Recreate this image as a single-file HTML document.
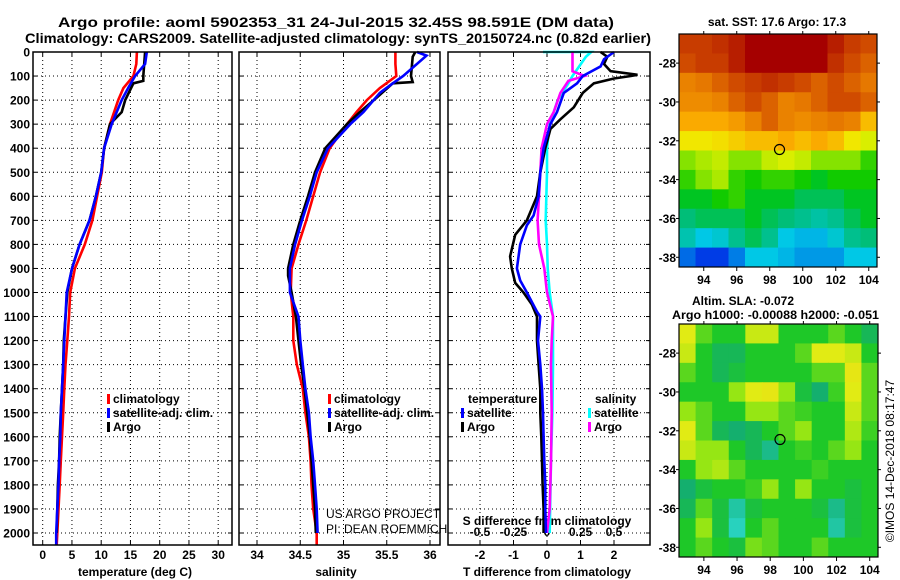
<!DOCTYPE html>
<html><head><meta charset="utf-8"><style>
html,body{margin:0;padding:0;background:#fff}
svg{display:block;font-family:"Liberation Sans",sans-serif}
.t{font-weight:bold;font-size:12px}
</style></head><body>
<svg id="c" width="900" height="580" viewBox="0 0 900 580" xmlns="http://www.w3.org/2000/svg">
<text x="58" y="27" font-size="14" font-weight="bold" textLength="556" lengthAdjust="spacingAndGlyphs">Argo profile: aoml 5902353_31 24-Jul-2015 32.45S 98.591E (DM data)</text>
<text x="25" y="43" font-size="14" font-weight="bold" textLength="626" lengthAdjust="spacingAndGlyphs">Climatology: CARS2009. Satellite-adjusted climatology: synTS_20150724.nc (0.82d earlier)</text>
<g id="g"></g>
</svg>
<script>
// ---- profile data ----
const depthT=[0,50,100,150,200,300,400,500,600,700,800,900,1000,1100,1200,1300,1400,1500,1600,1700,1800,1900,2000,2050];
const tempClim=[16.1,16.0,15.5,13.8,12.9,11.5,10.5,10.1,9.3,8.5,7.2,5.5,4.7,4.5,4.2,3.9,3.7,3.5,3.3,3.1,2.9,2.7,2.5,2.4];
const tempSat=[17.8,17.5,15.8,14.6,13.5,11.8,10.5,10.0,9.1,8.0,6.3,5.0,4.1,3.9,3.7,3.5,3.3,3.1,3.0,2.8,2.7,2.5,2.3,2.3];
const depthTA=[0,100,120,130,200,250,300,400,500,600,700,800,900,1000,1100,1200,1300,1400,1500,1600,1700,1800,1900,2000];
const tempArgo=[17.5,17.2,17.2,15.5,14.1,13.5,11.5,10.5,10.0,9.1,8.0,6.3,5.0,4.2,3.9,3.6,3.5,3.3,3.1,2.9,2.8,2.6,2.5,2.4];
const depthS=[0,50,100,150,200,250,300,400,500,600,700,800,900,1000,1100,1200,1300,1400,1500,1600,1700,1800,1900,2000,2050];
const salClim=[35.6,35.6,35.61,35.42,35.27,35.15,35.04,34.84,34.73,34.65,34.57,34.48,34.4,34.39,34.42,34.42,34.46,34.53,34.56,34.6,34.62,34.63,34.65,34.69,34.69];
const depthSS=[0,15,100,130,170,250,300,400,500,600,700,800,900,1000,1100,1200,1300,1400,1500,1600,1700,1800,1900,2000];
const salSat=[35.85,35.96,35.69,35.57,35.42,35.23,35.08,34.82,34.69,34.61,34.52,34.44,34.38,34.38,34.48,34.5,34.53,34.56,34.6,34.62,34.65,34.67,34.69,34.7];
const depthSA=[0,20,100,125,130,200,250,300,400,500,600,700,800,900,930,1000,1100,1200,1300,1400,1500,1600,1700,1800,1900,2000];
const salArgo=[35.83,35.8,35.78,35.8,35.57,35.35,35.19,35.04,34.79,34.67,34.59,34.5,34.42,34.36,34.36,34.4,34.45,34.48,34.51,34.55,34.58,34.61,34.63,34.65,34.67,34.68];
// differences
const depthD1=[0,30,60,100,130,170,250,300,400,500,600,680,720,800,900,950,1000,1080,1100,1200,1300,1400,1500,1600,1700,1800,1900,2000];
const dTSat=[2.0,1.7,1.6,1.07,0.9,0.5,0.3,0.1,-0.1,-0.2,-0.25,-0.4,-0.6,-0.8,-0.9,-0.8,-0.6,-0.3,-0.2,-0.27,-0.2,-0.15,-0.12,-0.1,-0.08,-0.05,-0.05,-0.03];
const depthD2=[0,20,50,80,95,100,110,130,170,230,280,320,400,500,600,700,760,850,900,960,1000,1050,1100,1200,1300,1400,1500,1600,1700,1800,1900,2000];
const dTArgo=[1.6,1.8,1.7,1.9,2.7,2.5,2.0,1.4,1.07,0.8,0.4,0.1,-0.05,-0.2,-0.3,-0.6,-0.95,-1.1,-1.05,-0.95,-0.7,-0.45,-0.3,-0.3,-0.25,-0.2,-0.2,-0.17,-0.15,-0.13,-0.1,-0.1];
const depthD3=[0,0,20,100,130,200,300,400,500,700,800,900,1000,1100,1200,1300,1500,1700,2000];
const dSSat=[-0.03,0.33,0.29,0.19,0.16,0.08,0.02,0.0,0.0,-0.01,0.0,0.005,0.02,0.045,0.045,0.045,0.04,0.03,0.02];
const depthD4=[0,50,80,100,120,170,250,300,400,500,600,700,800,900,1000,1100,1200,1300,1500,1700,1900,2000];
const dSArgo=[0.19,0.19,0.19,0.28,0.16,0.1,0.05,0.0,-0.04,-0.05,-0.06,-0.07,-0.06,-0.02,0,0.045,0.035,0.03,0.035,0.03,0.02,0];
// depth ticks
const depthTicks=[0,100,200,300,400,500,600,700,800,900,1000,1100,1200,1300,1400,1500,1600,1700,1800,1900,2000];
const tTicks=[0,5,10,15,20,25,30];
const sTicks=[34,34.5,35,35.5,36];
const dTTicks=[-2,-1,0,1,2];
const dSTicks=[-0.5,-0.25,0,0.25,0.5];
// ---- map data ----
const sstLons=[93,94,95,96,97,98,99,100,101,102,103,104];
const sstLats=[-27,-28,-29,-30,-31,-32,-33,-34,-35,-36,-37,-38];
const sstGrid=[
[.9,.9,.92,.95,1,1,1,1,1,.95,.9,.88],
[.88,.9,.9,.95,1,1,1,1,1,.92,.88,.85],
[.8,.82,.85,.88,.9,.92,.9,.88,.85,.88,.85,.82],
[.78,.78,.8,.85,.88,.85,.8,.82,.85,.88,.88,.85],
[.72,.72,.72,.75,.8,.85,.8,.78,.8,.82,.8,.7],
[.65,.65,.66,.68,.7,.7,.72,.7,.72,.7,.65,.62],
[.55,.58,.6,.55,.55,.6,.62,.6,.55,.55,.55,.5],
[.5,.55,.58,.5,.48,.5,.5,.48,.45,.48,.48,.48],
[.45,.45,.48,.5,.45,.45,.45,.42,.42,.42,.45,.45],
[.4,.42,.42,.42,.45,.42,.4,.38,.36,.38,.42,.45],
[.35,.3,.32,.38,.42,.38,.3,.28,.28,.32,.38,.4],
[.2,.15,.15,.22,.3,.3,.28,.25,.25,.25,.3,.3]];
const slaGrid=[
[.85,.6,.5,.5,.8,.8,.5,.5,.5,.6,.5,.4],
[.8,.5,.4,.4,.5,.5,.5,.6,.85,.85,.8,.5],
[.6,.5,.4,.45,.5,.5,.5,.5,.6,.6,.9,.6],
[.5,.5,.5,.7,.85,.9,.7,.45,.35,.55,.85,.6],
[.7,.6,.5,.5,.7,.7,.6,.55,.5,.5,.8,.6],
[.85,.6,.4,.35,.4,.5,.6,.7,.5,.5,.75,.55],
[.8,.7,.7,.5,.4,.3,.5,.55,.5,.6,.7,.5],
[.5,.7,.75,.6,.5,.5,.5,.5,.55,.5,.5,.5],
[.35,.45,.5,.5,.55,.7,.5,.7,.5,.5,.45,.5],
[.4,.6,.45,.25,.45,.5,.5,.5,.45,.3,.45,.5],
[.5,.7,.45,.2,.5,.6,.5,.5,.5,.25,.45,.5],
[.5,.6,.5,.45,.65,.6,.5,.5,.6,.5,.5,.5]];
const lonTicks=[94,96,98,100,102,104];
const latTicks=[-28,-30,-32,-34,-36,-38];
const floatLon=98.591, floatLat=-32.45;

const NS='http://www.w3.org/2000/svg';
const G=document.getElementById('g');
function mk(tag,attrs,parent){const e=document.createElementNS(NS,tag);for(const k in attrs)e.setAttribute(k,attrs[k]);(parent||G).appendChild(e);return e;}
function txt(x,y,s,attrs,parent){const e=mk('text',Object.assign({x:x,y:y},attrs||{}),parent);e.textContent=s;return e;}

const Y0=52, Ybot=545;
const yD=d=>Y0+d*0.2405;
const xT=v=>42.7+v*5.85;
const xS=v=>257+(v-34)*86.5;
const xDT=v=>547+v*33.5;
const xDS=v=>547+v*134;
const panels=[{x0:33,x1:232,n:'temperature-panel'},{x0:239,x1:440,n:'salinity-panel'},{x0:448,x1:650,n:'difference-panel'}];

function panelFrame(p,gx){
  const g=mk('g',{});
  
  
  depthTicks.forEach(d=>{mk('line',{x1:p.x0,x2:p.x1,y1:yD(d),y2:yD(d),stroke:'#000','stroke-width':1,'stroke-dasharray':'1,3'},g);
    mk('line',{x1:p.x0,x2:p.x0+4,y1:yD(d),y2:yD(d),stroke:'#000'},g);mk('line',{x1:p.x1-4,x2:p.x1,y1:yD(d),y2:yD(d),stroke:'#000'},g);});
  gx.forEach(x=>{mk('line',{x1:x,x2:x,y1:Y0,y2:Ybot,stroke:'#000','stroke-dasharray':'1,3'},g);
    mk('line',{x1:x,x2:x,y1:Ybot,y2:Ybot-4,stroke:'#000'},g);mk('line',{x1:x,x2:x,y1:Y0,y2:Y0+4,stroke:'#000'},g);});
  return g;
}
function frameBox(p){const r=mk('rect',{x:p.x0,y:Y0,width:p.x1-p.x0,height:Ybot-Y0,fill:'none',stroke:'#000','stroke-width':1.5});}
function line(xs,ds,fx,color,name){
  const pts=xs.map((v,i)=>fx(v).toFixed(1)+','+yD(ds[i]).toFixed(1)).join(' ');
  const e=mk('polyline',{points:pts,fill:'none',stroke:color,'stroke-width':2.6,'stroke-linejoin':'miter'});
  
  
}
panelFrame(panels[0],tTicks.map(xT));
panelFrame(panels[1],sTicks.map(xS));
panelFrame(panels[2],dTTicks.map(xDT));
// depth labels
depthTicks.forEach(d=>{const e=txt(30,yD(d)+4.5,String(d),{class:'t','text-anchor':'end'});
  
  });
tTicks.forEach(v=>{const e=txt(xT(v),559,String(v),{class:'t','text-anchor':'middle'});
  
  });
sTicks.forEach(v=>{const e=txt(xS(v),559,String(v),{class:'t','text-anchor':'middle'});
  
  });
dTTicks.forEach(v=>{const e=txt(xDT(v),559,String(v),{class:'t','text-anchor':'middle'});
  
  });
dSTicks.forEach(v=>{const e=txt(xDS(v),536,String(v),{class:'t','text-anchor':'middle'});
  
  });
let e;
e=txt(135,576,'temperature (deg C)',{class:'t','text-anchor':'middle'});

e=txt(336,576,'salinity',{class:'t','text-anchor':'middle'});

e=txt(547,576,'T difference from climatology',{class:'t','text-anchor':'middle'});

e=txt(547,525,'S difference from climatology',{class:'t','text-anchor':'middle'});


// series
line(tempClim,depthT,xT,'#f00','temp-climatology-line');
line(tempArgo,depthTA,xT,'#000','temp-argo-line');
line(tempSat,depthT,xT,'#00f','temp-satellite-line');
line(salClim,depthS,xS,'#f00','sal-climatology-line');
line(salArgo,depthSA,xS,'#000','sal-argo-line');
line(salSat,depthSS,xS,'#00f','sal-satellite-line');
line(dSSat,depthD3,xDS,'#0ff','s-diff-satellite-line');
line(dSArgo,depthD4,xDS,'#f0f','s-diff-argo-line');
line(dTArgo,depthD2,xDT,'#000','t-diff-argo-line');
line(dTSat,depthD1,xDT,'#00f','t-diff-satellite-line');
panels.forEach(frameBox);

// legends
function leg(x,y,color,label){
  const g=mk('g',{});
  
  
  mk('rect',{x:x,y:y-9,width:3,height:10,fill:color},g);
  txt(x+6,y,label,{class:'t'},g);
}
leg(107,403,'#f00','climatology');leg(107,417,'#00f','satellite-adj. clim.');leg(107,431,'#000','Argo');
leg(328,403,'#f00','climatology');leg(328,417,'#00f','satellite-adj. clim.');leg(328,431,'#000','Argo');
e=txt(468,403,'temperature',{class:'t'});
leg(461,417,'#00f','satellite');leg(461,431,'#000','Argo');
e=txt(595,403,'salinity',{class:'t'});
leg(588,417,'#0ff','satellite');leg(588,431,'#f0f','Argo');
e=txt(326,518,'US ARGO PROJECT',{'font-size':12});
e=txt(326,533,'PI: DEAN ROEMMICH',{'font-size':12});

// maps
function jet(v){const st=[[0,[0,0,160]],[.15,[0,60,230]],[.3,[0,200,230]],[.4,[0,190,120]],[.47,[0,200,0]],[.56,[150,230,0]],[.64,[240,240,0]],[.72,[250,170,0]],[.82,[230,120,0]],[.9,[200,60,0]],[1,[165,0,0]]];
  for(let i=1;i<st.length;i++){if(v<=st[i][0]){const a=st[i-1],b=st[i],t=(v-a[0])/(b[0]-a[0]);return 'rgb('+a[1].map((c,k)=>Math.round(c+(b[1][k]-c)*t)).join(',')+')';}}return 'rgb(165,0,0)';}
function slaC(v){const st=[[0.2,[40,210,190]],[.35,[20,175,110]],[.5,[30,200,40]],[.7,[150,230,20]],[.85,[225,235,20]],[1,[240,220,20]]];
  if(v<=st[0][0])return 'rgb(40,210,190)';
  for(let i=1;i<st.length;i++){if(v<=st[i][0]){const a=st[i-1],b=st[i],t=(v-a[0])/(b[0]-a[0]);return 'rgb('+a[1].map((c,k)=>Math.round(c+(b[1][k]-c)*t)).join(',')+')';}}return 'rgb(240,220,20)';}
function map(m,grid,cf,name){
  const g=mk('g',{});
  
  
  const fx=lon=>m.x0+(lon-92.5)*(m.x1-m.x0)/12, fy=lat=>m.y0+(-26.5-lat)*(m.y1-m.y0)/12;
  grid.forEach((row,i)=>row.forEach((v,j)=>{
    const r=mk('rect',{x:fx(sstLons[j]-0.5),y:fy(sstLats[i]+0.5),width:(m.x1-m.x0)/12+0.5,height:(m.y1-m.y0)/12+0.5,fill:cf(v)},g);
    
    
  }));
  mk('rect',{x:m.x0,y:m.y0,width:m.x1-m.x0,height:m.y1-m.y0,fill:'none',stroke:'#000','stroke-width':1.2},g);
  lonTicks.forEach(l=>{mk('line',{x1:fx(l),x2:fx(l),y1:m.y1,y2:m.y1+4,stroke:'#000'},g);mk('line',{x1:fx(l),x2:fx(l),y1:m.y0,y2:m.y0-3,stroke:'#000'},g);
    txt(fx(l),m.y1+17,String(l),{class:'t','text-anchor':'middle'},g);});
  latTicks.forEach(l=>{mk('line',{x1:m.x0-3,x2:m.x0,y1:fy(l),y2:fy(l),stroke:'#000'},g);mk('line',{x1:m.x1,x2:m.x1+3,y1:fy(l),y2:fy(l),stroke:'#000'},g);
    txt(m.x0-3,fy(l)+4.5,String(l),{class:'t','text-anchor':'end'},g);});
  const c=mk('circle',{cx:fx(floatLon),cy:fy(floatLat),r:5,fill:'none',stroke:'#000','stroke-width':1.2},g);
  
  
}
map({x0:679,x1:877,y0:34,y1:267},sstGrid,jet,'sst-map');
map({x0:679,x1:878,y0:324,y1:557},slaGrid,slaC,'sla-map');
e=txt(777,26,'sat. SST: 17.6 Argo: 17.3',{class:'t','text-anchor':'middle'});
e=txt(692,305,'Altim. SLA: -0.072',{class:'t'});
e=txt(672,319,'Argo h1000: -0.00088 h2000: -0.051',{class:'t',textLength:207,lengthAdjust:'spacingAndGlyphs'});
e=txt(0,0,'©IMOS 14-Dec-2018 08:17:47',{'font-size':12,'text-anchor':'middle',transform:'translate(894,461) rotate(-90)'});
</script>
</body></html>
